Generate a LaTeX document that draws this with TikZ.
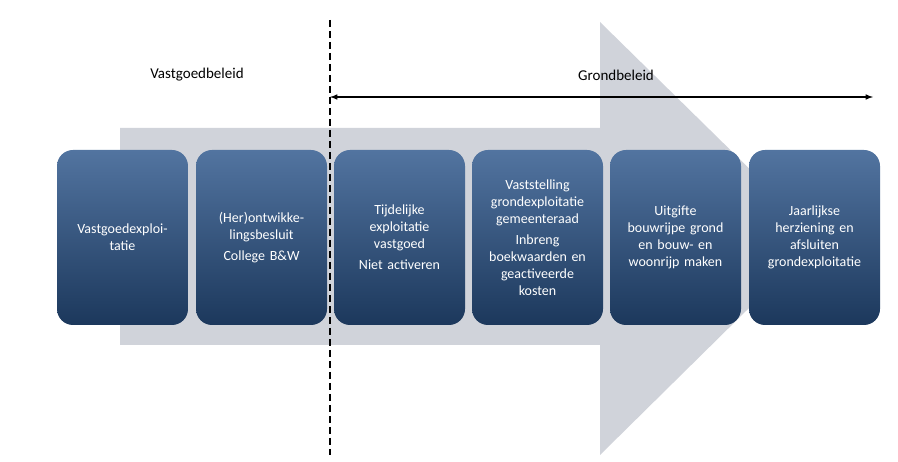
\documentclass[tikz,border=0pt]{standalone}
\usepackage{fontspec}
\setmainfont{Carlito}
\begin{document}
\begin{tikzpicture}[x=1pt,y=-1pt,
  box/.style={rounded corners=16pt,minimum width=131pt,minimum height=175pt,
    top color={rgb,255:red,82;green,116;blue,160},bottom color={rgb,255:red,28;green,56;blue,92},
    draw=none,text=white,align=center,text width=125pt,font=\fontsize{14}{17}\selectfont,inner sep=0pt},
  lbl/.style={font=\fontsize{15}{18}\selectfont}]
\useasboundingbox (0,0) rectangle (898,462);
\fill[fill={rgb,255:red,208;green,211;blue,218}] (120,128) -- (600,128) -- (600,22) -- (820,238) -- (600,455) -- (600,345) -- (120,345) -- cycle;
\node[box] (b1) at (122.5,237.5) {Vastgoedexploi-\\tatie};
\node[box] (b2) at (261.5,237.5) {(Her)ontwikke-\\lingsbesluit\\[4pt]College B\&W};
\node[box] (b3) at (399.5,237.5) {Tijdelijke\\exploitatie\\vastgoed\\[4pt]Niet activeren};
\node[box] (b4) at (537.5,237.5) {Vaststelling\\grondexploitatie\\gemeenteraad\\[4pt]Inbreng\\boekwaarden en\\geactiveerde\\kosten};
\node[box] (b5) at (675.5,237.5) {Uitgifte\\bouwrijpe grond\\en bouw- en\\woonrijp maken};
\node[box] (b6) at (814.5,237.5) {Jaarlijkse\\herziening en\\afsluiten\\grondexploitatie};
\coordinate (dt) at (330,20); \coordinate (db) at (330,455);
\draw[line width=2pt,dash pattern=on 7pt off 4pt] (dt) -- (db);
\coordinate (al) at (330,97); \coordinate (ar) at (873,97);
\draw[line width=1.5pt,<->,>=latex] (al) -- (ar);
\node[lbl] (v) at (197,75) {Vastgoedbeleid};
\node[lbl] (g) at (616,75) {Grondbeleid};
\end{tikzpicture}
\end{document}
